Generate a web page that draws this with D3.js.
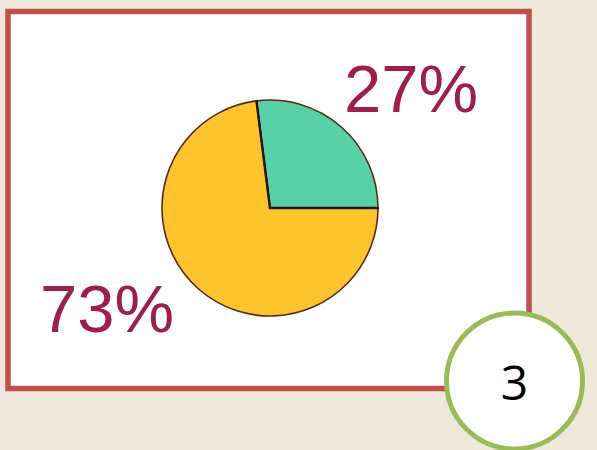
<!DOCTYPE html>
<meta charset="utf-8">
<style>
  body { margin: 0; background: #efe9dc; }
  svg { display: block; }
</style>
<svg width="597" height="450"></svg>

<script src="https://d3js.org/d3.v7.min.js"></script>
<script>
// slices, clockwise from just left of 12 o'clock
var labels = ["27%", "73%"]
var values = [27, 73]
var colors = ["#58d1a9", "#fdc42e"]
var badge = "3"

var svg = d3.select("svg")

// white card with red frame
svg.append("rect")
  .attr("x", 8).attr("y", 11.5)
  .attr("width", 521).attr("height", 377)
  .attr("fill", "#ffffff")
  .attr("stroke", "#c0504d")
  .attr("stroke-width", 5.5)

// pie: green slice ends exactly at 3 o'clock
var startAngle = Math.PI / 2 - 2 * Math.PI * values[0] / d3.sum(values)
var pie = d3.pie()
  .sort(null)
  .value(function (d) { return d })
  .startAngle(startAngle)
  .endAngle(startAngle + 2 * Math.PI)

var radius = 108
var arc = d3.arc().innerRadius(0).outerRadius(radius)

var pieGroup = svg.append("g").attr("transform", "translate(270,208)")

pieGroup.selectAll("path")
  .data(pie(values))
  .enter().append("path")
  .attr("d", arc)
  .attr("fill", function (d, i) { return colors[i] })
  .attr("stroke", "#5a2a16")
  .attr("stroke-width", 1.6)

// darker slice edges
pieGroup.selectAll("line")
  .data(pie(values))
  .enter().append("line")
  .attr("x1", 0).attr("y1", 0)
  .attr("x2", function (d) { return radius * Math.sin(d.startAngle) })
  .attr("y2", function (d) { return -radius * Math.cos(d.startAngle) })
  .attr("stroke", "#2a140a")
  .attr("stroke-width", 2.4)
  .attr("stroke-linecap", "round")

// percentage labels
var labelPos = [[344, 112], [40, 332]]
svg.selectAll("text.pct")
  .data(labels)
  .enter().append("text")
  .attr("class", "pct")
  .attr("x", function (d, i) { return labelPos[i][0] })
  .attr("y", function (d, i) { return labelPos[i][1] })
  .attr("font-family", "Liberation Sans, Arial, sans-serif")
  .attr("font-size", 67)
  .attr("fill", "#9c1f4c")
  .text(function (d) { return d })

// page number badge
svg.append("circle")
  .attr("cx", 514.5).attr("cy", 381)
  .attr("r", 68)
  .attr("fill", "#ffffff")
  .attr("stroke", "#9bbb59")
  .attr("stroke-width", 5)

svg.append("text")
  .attr("x", 514.5).attr("y", 400)
  .attr("text-anchor", "middle")
  .attr("font-family", "Open Sans, sans-serif")
  .attr("font-size", 48)
  .attr("fill", "#000000")
  .text(badge)
</script>
